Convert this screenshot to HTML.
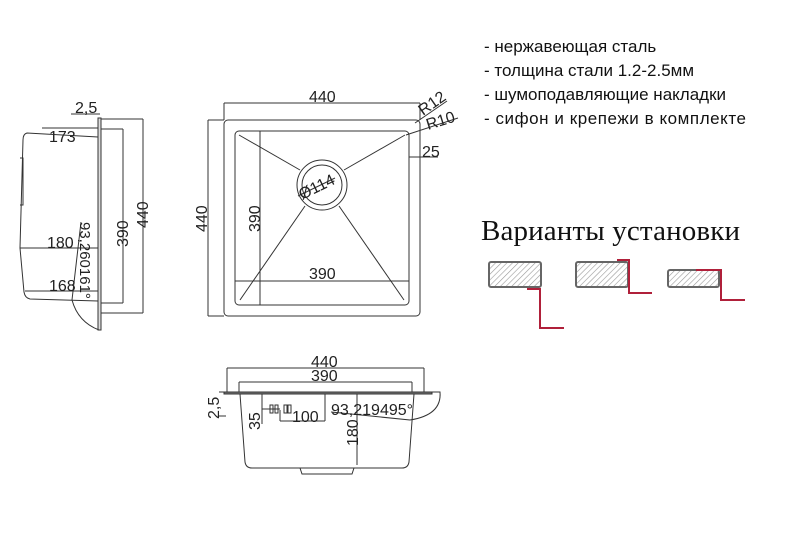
<!DOCTYPE html>
<html><head><meta charset="utf-8"><style>
body{margin:0;background:#fff}
svg text{font-family:"Liberation Sans",sans-serif;fill:#222}
.t{font-family:"Liberation Sans","DejaVu Sans",sans-serif;font-size:17px;fill:#111}
</style></head><body>
<svg width="800" height="533" viewBox="0 0 800 533" xmlns="http://www.w3.org/2000/svg">
<defs><pattern id="h" width="4" height="4" patternUnits="userSpaceOnUse" patternTransform="rotate(45)"><line x1="0" y1="0" x2="0" y2="4" stroke="#999" stroke-width="1.2"/></pattern></defs>
<g fill="none" stroke="#333" stroke-width="1">
<line x1="71" y1="114" x2="100" y2="114"/>
<rect x="98" y="118" width="3" height="212" fill="#ddd"/>
<line x1="101" y1="119" x2="143" y2="119"/><line x1="101" y1="313" x2="143" y2="313"/><line x1="143" y1="119" x2="143" y2="313"/>
<line x1="101" y1="129" x2="123" y2="129"/><line x1="101" y1="303" x2="123" y2="303"/><line x1="123" y1="129" x2="123" y2="303"/>
<path d="M98 137 L27 133 Q23 134 23 140 L20 248 L24 292 Q25 298 30 299 L98 301"/>
<line x1="20" y1="248" x2="98" y2="248"/>
<line x1="25" y1="291" x2="98" y2="291"/>
<line x1="42" y1="128" x2="98" y2="128"/>
<path d="M20 158 L23 158 L23 205 L20 205"/>
<path d="M81 222 L72 300 Q78 322 99 330"/>
<rect x="224" y="120" width="196" height="196" rx="4"/>
<rect x="235" y="131" width="174" height="174" rx="4"/>
<line x1="224" y1="103" x2="420" y2="103"/><line x1="224" y1="103" x2="224" y2="120"/><line x1="420" y1="103" x2="420" y2="120"/>
<line x1="208" y1="120" x2="224" y2="120"/><line x1="208" y1="316" x2="224" y2="316"/><line x1="208" y1="120" x2="208" y2="316"/>
<line x1="260" y1="131" x2="260" y2="305"/>
<line x1="235" y1="281" x2="409" y2="281"/>
<circle cx="322" cy="185" r="25"/><circle cx="322" cy="185" r="20"/>
<line x1="239" y1="135" x2="300" y2="170"/><line x1="405" y1="135" x2="344" y2="170"/>
<line x1="240" y1="300" x2="305" y2="206"/><line x1="404" y1="300" x2="339" y2="206"/>
<line x1="298" y1="196" x2="335" y2="178"/>
<line x1="415" y1="123" x2="447" y2="101"/><line x1="406" y1="135" x2="458" y2="118"/>
<line x1="409" y1="157" x2="438" y2="157"/>
<line x1="227" y1="368" x2="424" y2="368"/><line x1="227" y1="368" x2="227" y2="393"/><line x1="424" y1="368" x2="424" y2="393"/>
<line x1="239" y1="382" x2="412" y2="382"/><line x1="239" y1="382" x2="239" y2="393"/><line x1="412" y1="382" x2="412" y2="393"/>
<rect x="224" y="392" width="208" height="2" fill="#777"/>
<path d="M432 392 L440 392 Q442 415 410 420"/>
<line x1="219" y1="392" x2="224" y2="392"/><line x1="219" y1="416" x2="226" y2="416"/>
<path d="M240 394 L245 462 Q246 468 252 468 L402 468 Q408 468 409 462 L414 394"/>
<path d="M300 468 L302 474 L352 474 L354 468"/>
<line x1="262" y1="394" x2="262" y2="424"/>
<line x1="325" y1="394" x2="325" y2="421"/><line x1="280" y1="421" x2="325" y2="421"/><line x1="280" y1="410" x2="280" y2="421"/>
<line x1="262" y1="409" x2="280" y2="409"/>
<rect x="270" y="405" width="3" height="8"/><rect x="275" y="405" width="3" height="8"/><rect x="284" y="405" width="3" height="8"/><rect x="288" y="405" width="3" height="8"/>
<line x1="357" y1="394" x2="357" y2="465"/>
<line x1="331" y1="412" x2="410" y2="420"/>
</g>
<g font-size="16">
<text x="75" y="113">2,5</text>
<text x="49" y="142">173</text>
<text x="47" y="248">180</text>
<text x="49" y="291">168</text>
<text transform="translate(80,222) rotate(90)" font-size="15">93,260161°</text>
<text transform="translate(128,247) rotate(-90)">390</text>
<text transform="translate(148,228) rotate(-90)">440</text>
<text x="309" y="102">440</text>
<text transform="translate(207,232) rotate(-90)">440</text>
<text transform="translate(260,232) rotate(-90)">390</text>
<text x="309" y="279">390</text>
<text transform="translate(302,200) rotate(-26)">Ø114</text>
<text transform="translate(423,116) rotate(-35)">R12</text>
<text transform="translate(428,130) rotate(-17)">R10</text>
<text x="422" y="157">25</text>
<text x="311" y="367">440</text>
<text x="311" y="381">390</text>
<text transform="translate(219,419) rotate(-90)">2,5</text>
<text transform="translate(260,430) rotate(-90)">35</text>
<text x="292" y="422">100</text>
<text x="331" y="415">93,219495°</text>
<text transform="translate(358,446) rotate(-90)">180</text>
</g>
<text class="t" x="484" y="52">- нержавеющая сталь</text>
<text class="t" x="484" y="76">- толщина стали 1.2-2.5мм</text>
<text class="t" x="484" y="100">- шумоподавляющие накладки</text>
<text class="t" x="484" y="124" textLength="262">- сифон и крепежи в комплекте</text>
<text x="481" y="240" style="font-family:'Liberation Serif',serif;font-size:29px;fill:#111" textLength="259">Варианты установки</text>
<g stroke="#666" stroke-width="2" fill="url(#h)">
<rect x="489" y="262" width="52" height="25" rx="2"/>
<rect x="576" y="262" width="52" height="25" rx="2"/>
<rect x="668" y="270" width="51" height="17" rx="2"/>
</g>
<g stroke="#b0203a" stroke-width="2" fill="none">
<path d="M527 289 L540 289 L540 328 L564 328"/>
<path d="M617 260 L629 260 L629 293 L652 293"/>
<path d="M696 270 L721 270 L721 300 L745 300"/>
</g>
</svg>
</body></html>
